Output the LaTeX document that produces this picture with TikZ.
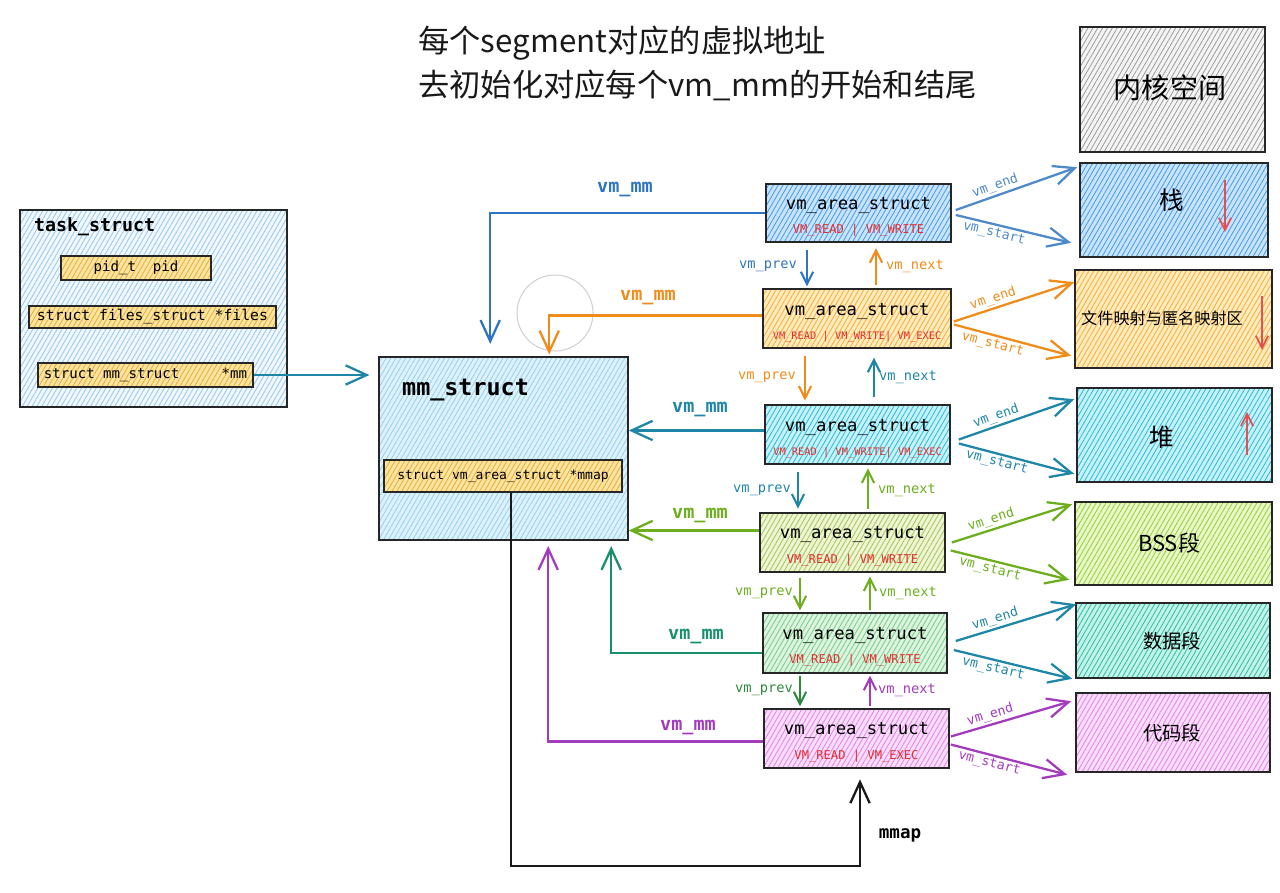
\documentclass[tikz,border=0pt]{standalone}
\usepackage{fontspec}
\setmonofont{DejaVu Sans Mono}
\newfontfamily\cjk{Noto Sans CJK SC}
\usetikzlibrary{arrows.meta,patterns.meta,fit,calc}
\definecolor{cBlue}{HTML}{2F74C0}
\definecolor{cOrange}{HTML}{F08C1A}
\definecolor{cTeal}{HTML}{1F86A8}
\definecolor{cLime}{HTML}{6CAE1E}
\definecolor{cGreen}{HTML}{2B8A3E}
\definecolor{cTG}{HTML}{198F6F}
\definecolor{cPurple}{HTML}{A33BBD}
\definecolor{cRed}{HTML}{E03131}
\definecolor{fGray}{HTML}{F4F4F4}\definecolor{hGray}{HTML}{9A9A9A}
\definecolor{fBlue}{HTML}{C9E3FB}\definecolor{hBlue}{HTML}{3F9BEE}
\definecolor{fOr}{HTML}{FFEBBB}\definecolor{hOr}{HTML}{F5AD3A}
\definecolor{fCy}{HTML}{C8F0F8}\definecolor{hCy}{HTML}{22BED8}
\definecolor{fLi}{HTML}{E8F6C8}\definecolor{hLi}{HTML}{94D035}
\definecolor{fTe}{HTML}{C4F1E8}\definecolor{hTe}{HTML}{26C0A3}
\definecolor{fPi}{HTML}{FADDFA}\definecolor{hPi}{HTML}{DE84E6}
\definecolor{fOl}{HTML}{EEF5D2}\definecolor{hOl}{HTML}{A3C45A}
\definecolor{fGr}{HTML}{DCF3DF}\definecolor{hGr}{HTML}{78CB86}
\definecolor{fTs}{HTML}{F0F7FD}\definecolor{hTs}{HTML}{96C7EE}
\definecolor{fMm}{HTML}{DCF1FA}\definecolor{hMm}{HTML}{97D0EA}
\definecolor{fFd}{HTML}{FBE4A0}\definecolor{hFd}{HTML}{E6AC3A}
\newcommand{\vmtext}[2][6.9pt]{{\fontsize{9.8pt}{11pt}\selectfont vm\_area\_struct}\\[2pt]{\fontsize{#1}{8pt}\selectfont\color{cRed}#2}}
\tikzset{
  hb/.style 2 args={draw=black!85, line width=0.9pt, inner sep=0pt, preaction={fill=#1},
    pattern={Lines[angle=60,distance=2.4pt,line width=0.45pt]}, pattern color=#2},
  Vbig/.tip={Straight Barb[length=12pt,width=11pt]},
  Vsm/.tip={Straight Barb[length=7pt,width=7pt]},
  conn/.style={line width=1.3pt, -{Vbig}},
  sconn/.style={line width=1.2pt, -{Vsm}},
  mmlab/.style={font=\ttfamily\bfseries\fontsize{10.5pt}{12pt}\selectfont},
  pnlab/.style={font=\ttfamily\fontsize{7.8pt}{9pt}\selectfont},
  selab/.style={font=\ttfamily\fontsize{7.5pt}{9pt}\selectfont, inner sep=1pt},
  vm/.style={align=center, font=\ttfamily, inner sep=0pt},
}
\begin{document}
\begin{tikzpicture}[x=0.02cm,y=-0.02cm]
\useasboundingbox (0,0) rectangle (1280,892);
% title
\node[anchor=west, font=\cjk\fontsize{17.8pt}{20pt}\selectfont, text=black!90] (t1) at (412,43) {每个segment对应的虚拟地址};
\node[anchor=west, font=\cjk\fontsize{17.8pt}{20pt}\selectfont, text=black!90] (t2) at (412,85) {去初始化对应每个vm\_mm的开始和结尾};
% segments
\node[hb={fGray}{hGray}, fit={(1080,27)(1265,152)}] (k) {};
\node[hb={fBlue}{hBlue}, fit={(1080,163)(1268,257)}] (s1) {};
\node[hb={fOr}{hOr}, fit={(1075,270)(1272,368)}] (s2) {};
\node[hb={fCy}{hCy}, fit={(1077,388)(1272,482)}] (s3) {};
\node[hb={fLi}{hLi}, fit={(1075,502)(1272,585)}] (s4) {};
\node[hb={fTe}{hTe}, fit={(1076,603)(1270,678)}] (s5) {};
\node[hb={fPi}{hPi}, fit={(1076,693)(1270,772)}] (s6) {};
\node[font=\cjk\fontsize{16pt}{18pt}\selectfont] (kt) at (1170,88) {内核空间};
\node[font=\cjk\fontsize{14pt}{16pt}\selectfont] (s1t) at (1172,200) {栈};
\node[font=\cjk\fontsize{9.2pt}{11pt}\selectfont] (s2t) at (1162,318) {文件映射与匿名映射区};
\node[font=\cjk\fontsize{14pt}{16pt}\selectfont] (s3t) at (1162,437) {堆};
\node[font=\cjk\fontsize{12.5pt}{14pt}\selectfont] (s4t) at (1169,543) {BSS段};
\node[font=\cjk\fontsize{11pt}{13pt}\selectfont] (s5t) at (1172,641) {数据段};
\node[font=\cjk\fontsize{11pt}{13pt}\selectfont] (s6t) at (1172,733) {代码段};
\draw[cRed!85, line width=1pt, -{Vsm}] (1225,180) -- (1225,232);
\draw[cRed!85, line width=1pt, -{Vsm}] (1262,296) -- (1262,350);
\draw[cRed!85, line width=1pt, -{Vsm}] (1247,455) -- (1247,412);
% task_struct
\node[hb={fTs}{hTs}, fit={(20,210)(287,407)}] (ts) {};
\node[anchor=west, font=\ttfamily\bfseries\fontsize{10.4pt}{12pt}\selectfont] (tst) at (28,227) {task\_struct};
\node[hb={fFd}{hFd}, fit={(61,256)(211,280)}] (f1) {};
\node[hb={fFd}{hFd}, fit={(29,306)(276,328)}] (f2) {};
\node[hb={fFd}{hFd}, fit={(38,363)(253,387)}] (f3) {};
\node[font=\ttfamily\fontsize{8pt}{9pt}\selectfont] (f1t) at (f1) {pid\_t\ \ pid};
\node[font=\ttfamily\fontsize{8.4pt}{9pt}\selectfont] (f2t) at (f2) {struct files\_struct *files};
\node[font=\ttfamily\fontsize{8pt}{9pt}\selectfont] (f3t) at (f3) {struct mm\_struct\ \ \ \ \ *mm};
% mm_struct
\node[hb={fMm}{hMm}, fit={(379,357)(628,540)}] (m) {};
\node[anchor=west, font=\ttfamily\bfseries\fontsize{13.3pt}{15pt}\selectfont] (mt) at (396,390) {mm\_struct};
\node[hb={fFd}{hFd}, fit={(384,460)(622,492)}] (mf) {};
\node[font=\ttfamily\fontsize{7.4pt}{9pt}\selectfont] (mft) at (mf) {struct vm\_area\_struct *mmap};
\coordinate (a0) at (f3.east -| m.west);
\draw[conn, cTeal, shorten >=5pt] (f3.east) -- (a0);
% vm_area_struct
\node[hb={fBlue}{hBlue}, fit={(766,184)(951,242)}] (v1) {};
\node[hb={fOr}{hOr}, fit={(763,289)(951,348)}] (v2) {};
\node[hb={fCy}{hCy}, fit={(765,405)(950,464)}] (v3) {};
\node[hb={fOl}{hOl}, fit={(760,513)(945,572)}] (v4) {};
\node[hb={fGr}{hGr}, fit={(763,613)(947,673)}] (v5) {};
\node[hb={fPi}{hPi}, fit={(764,709)(949,768)}] (v6) {};
\node[vm] (v1t) at ($(v1)+(0,4)$) {\vmtext{VM\_READ | VM\_WRITE}};
\node[vm] (v2t) at ($(v2)+(0,4)$) {\vmtext[5.9pt]{VM\_READ | VM\_WRITE| VM\_EXEC}};
\node[vm] (v3t) at ($(v3)+(0,4)$) {\vmtext[5.9pt]{VM\_READ | VM\_WRITE| VM\_EXEC}};
\node[vm] (v4t) at ($(v4)+(0,4)$) {\vmtext{VM\_READ | VM\_WRITE}};
\node[vm] (v5t) at ($(v5)+(0,4)$) {\vmtext{VM\_READ | VM\_WRITE}};
\node[vm] (v6t) at ($(v6)+(0,4)$) {\vmtext{VM\_READ | VM\_EXEC}};
% highlight circle
\draw[black!18, line width=0.6pt] (555,313) circle[radius=38];
% vm_mm connectors
\coordinate (a1) at (v1.west);
\coordinate (a2) at ($(v2.west)+(0,-3)$);
\coordinate (a3) at ($(v3.west)+(0,-4)$);
\coordinate (a4) at ($(v4.west)+(0,-12)$);
\coordinate (a5) at ($(v5.west)+(0,10)$);
\coordinate (a6) at ($(v6.west)+(0,3)$);
\coordinate (m1) at ($(m.north west)+(112,0)$);
\coordinate (m2) at ($(m.north west)+(171,0)$);
\coordinate (m5) at ($(m.south west)+(233,0)$);
\coordinate (m6) at ($(m.south west)+(170,0)$);
\draw[conn, cBlue, shorten >=7pt] (a1) -| (m1);
\draw[conn, cOrange, shorten >=1pt] (a2) -| (m2);
\draw[conn, cTeal] (a3) -- (a3 -| m.east);
\draw[conn, cLime] (a4) -- (a4 -| m.east);
\draw[conn, cTG, shorten >=3pt] (a5) -| (m5);
\draw[conn, cPurple, shorten >=3pt] (a6) -| (m6);
\node[mmlab, text=cBlue] (l1) at (625,190) {vm\_mm};
\node[mmlab, text=cOrange] (l2) at (648,298) {vm\_mm};
\node[mmlab, text=cTeal] (l3) at (700,410) {vm\_mm};
\node[mmlab, text=cLime] (l4) at (700,516) {vm\_mm};
\node[mmlab, text=cTG] (l5) at (696,636) {vm\_mm};
\node[mmlab, text=cPurple] (l6) at (688,727) {vm\_mm};
% mmap
\coordinate (mms) at ($(mf.south west)+(128,0)$);
\coordinate (mmc) at (860,866);
\draw[conn, black!90, shorten >=6pt] (mms) |- (mmc) -- (v6.south -| mmc);
\node[font=\ttfamily\bfseries\fontsize{10pt}{12pt}\selectfont] (mml) at (900,835) {mmap};
% vm_prev / vm_next
\coordinate (x12p) at (807,0); \coordinate (x12n) at (876,0);
\coordinate (x23p) at (805,0); \coordinate (x23n) at (874,0);
\coordinate (x34p) at (798,0); \coordinate (x34n) at (868,0);
\coordinate (x45p) at (800,0); \coordinate (x45n) at (870,0);
\coordinate (x56p) at (800,0); \coordinate (x56n) at (870,0);
\draw[sconn, cBlue, shorten <=4pt, shorten >=1pt] (v1.south -| x12p) -- (v2.north -| x12p);
\draw[sconn, cOrange, shorten <=2pt, shorten >=3pt] (v2.north -| x12n) -- (v1.south -| x12n);
\draw[sconn, cOrange, shorten <=4pt, shorten >=2pt] (v2.south -| x23p) -- (v3.north -| x23p);
\draw[sconn, cTeal, shorten <=4pt, shorten >=5pt] (v3.north -| x23n) -- (v2.south -| x23n);
\draw[sconn, cTeal, shorten <=4pt, shorten >=2pt] (v3.south -| x34p) -- (v4.north -| x34p);
\draw[sconn, cLime, shorten <=2pt, shorten >=2pt] (v4.north -| x34n) -- (v3.south -| x34n);
\draw[sconn, cLime, shorten <=3pt, shorten >=1pt] (v4.south -| x45p) -- (v5.north -| x45p);
\draw[sconn, cLime, shorten <=1pt, shorten >=2pt] (v5.north -| x45n) -- (v4.south -| x45n);
\draw[sconn, cGreen, shorten <=1pt, shorten >=1pt] (v5.south -| x56p) -- (v6.north -| x56p);
\draw[sconn, cPurple, shorten <=1pt, shorten >=1pt] (v6.north -| x56n) -- (v5.south -| x56n);
\node[pnlab, text=cBlue] (p1) at (768,266) {vm\_prev};
\node[pnlab, text=cOrange] (n1) at (915,266) {vm\_next};
\node[pnlab, text=cOrange] (p2) at (767,377) {vm\_prev};
\node[pnlab, text=cTeal] (n2) at (908,377) {vm\_next};
\node[pnlab, text=cTeal] (p3) at (762,490) {vm\_prev};
\node[pnlab, text=cLime] (n3) at (907,490) {vm\_next};
\node[pnlab, text=cLime] (p4) at (764,593) {vm\_prev};
\node[pnlab, text=cLime] (n4) at (908,593) {vm\_next};
\node[pnlab, text=cGreen] (p5) at (764,690) {vm\_prev};
\node[pnlab, text=cPurple] (n5) at (907,690) {vm\_next};
% vm_end / vm_start
\draw[conn, cBlue!85] ($(v1.east)+(4,-3)$) -- node[sloped, above, pos=0.35, selab] (e1) {vm\_end} ($(s1.north west)+(-2,5)$);
\draw[conn, cBlue!85] ($(v1.east)+(4,2)$) -- node[sloped, below, pos=0.35, selab] (b1) {vm\_start} ($(s1.south west)+(-8,-15)$);
\draw[conn, cOrange] ($(v2.east)+(2,3)$) -- node[sloped, above, pos=0.35, selab] (e2) {vm\_end} ($(s2.north west)+(0,13)$);
\draw[conn, cOrange] ($(v2.east)+(2,6)$) -- node[sloped, below, pos=0.35, selab] (b2) {vm\_start} ($(s2.south west)+(-3,-13)$);
\draw[conn, cTeal] ($(v3.east)+(8,5)$) -- node[sloped, above, pos=0.35, selab] (e3) {vm\_end} ($(s3.north west)+(-2,12)$);
\draw[conn, cTeal] ($(v3.east)+(8,9)$) -- node[sloped, below, pos=0.35, selab] (b3) {vm\_start} ($(s3.south west)+(-2,-9)$);
\draw[conn, cLime] ($(v4.east)+(6,0)$) -- node[sloped, above, pos=0.35, selab] (e4) {vm\_end} ($(s4.north west)+(-2,3)$);
\draw[conn, cLime] ($(v4.east)+(5,8)$) -- node[sloped, below, pos=0.35, selab] (b4) {vm\_start} ($(s4.south west)+(-5,-6)$);
\draw[conn, cTeal] ($(v5.east)+(8,-2)$) -- node[sloped, above, pos=0.35, selab] (e5) {vm\_end} ($(s5.north west)+(1,2)$);
\draw[conn, cTeal] ($(v5.east)+(6,7)$) -- node[sloped, below, pos=0.35, selab] (b5) {vm\_start} ($(s5.south west)+(-3,0)$);
\draw[conn, cPurple] ($(v6.east)+(1,-2)$) -- node[sloped, above, pos=0.35, selab] (e6) {vm\_end} ($(s6.north west)+(-4,9)$);
\draw[conn, cPurple] ($(v6.east)+(1,6)$) -- node[sloped, below, pos=0.35, selab] (b6) {vm\_start} ($(s6.south west)+(-8,2)$);
\end{tikzpicture}
\end{document}
